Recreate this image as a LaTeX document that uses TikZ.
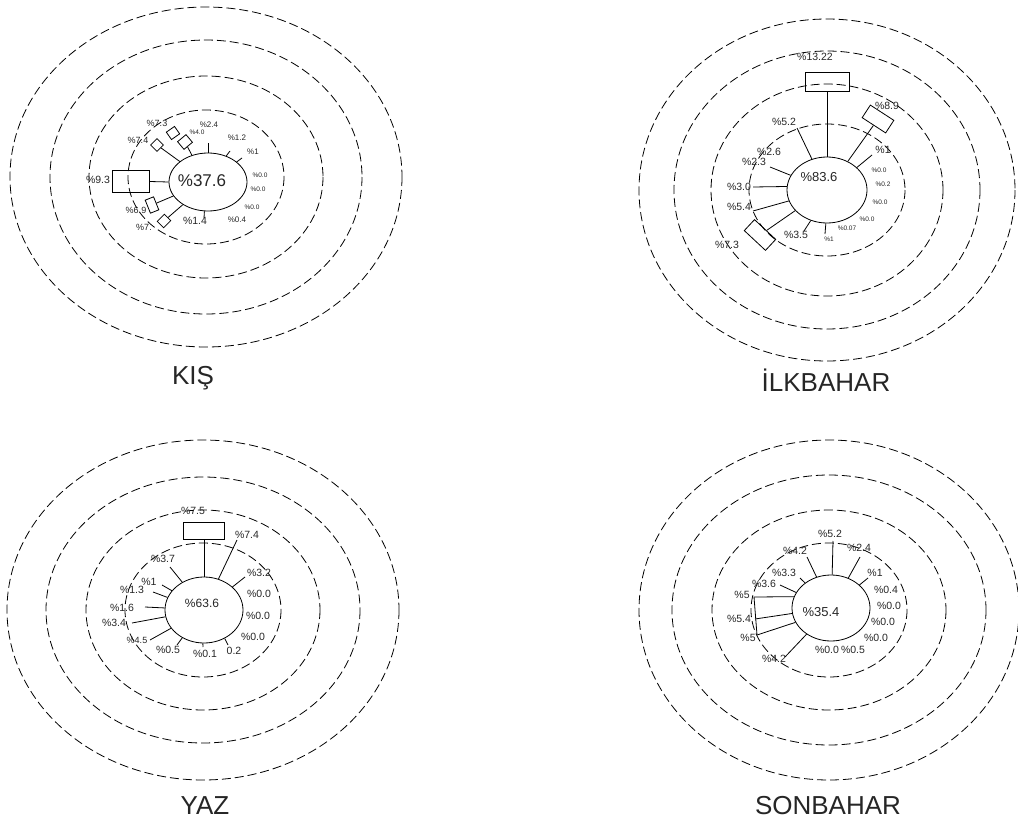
\documentclass[tikz,border=0pt]{standalone}
\usepackage{fontspec}
\setmainfont{Liberation Sans}
\usetikzlibrary{shapes.geometric}

\begin{document}
\begin{tikzpicture}[x=1pt, y=-1pt, line width=0.8pt,
  ring/.style={dash pattern=on 9pt off 4pt, line width=0.8pt},
  hub/.style={draw, ellipse, inner sep=0pt, minimum width=78pt, minimum height=66pt},
  boxr/.style={draw, rectangle, inner sep=0pt},
  every node/.style={inner sep=0pt, text=black!85},
  lbl/.style={font=\fontsize{10.5}{10.5}\selectfont},
  mid/.style={font=\fontsize{9}{9}\selectfont},
  sml/.style={font=\fontsize{8}{8}\selectfont},
  tny/.style={font=\fontsize{6.5}{6.5}\selectfont},
  title/.style={font=\fontsize{26}{26}\selectfont}]
  \useasboundingbox[fill=white] (0,0) rectangle (1018,827);

  % KIS
  \foreach \rx/\ry in {78/67,117/101,156/137,196/170}
    \draw[ring] (206,177) ellipse [x radius=\rx, y radius=\ry];
  \node[hub, minimum height=58pt] (k0) at (208,182) {};
  \node[font=\fontsize{17}{17}\selectfont] (kC) at (202,181) {\%37.6};
  \node[sml] (kN) at (209,125) {\%2.4};
  \node[sml] (kNNE) at (237,138) {\%1.2};
  \node[sml] (kNE) at (253,152) {\%1};
  \node[tny] (kENE) at (260,175) {\%0.0};
  \node[tny] (kE) at (258,189) {\%0.0};
  \node[tny] (kESE) at (252,207) {\%0.0};
  \node[sml] (kSE) at (237,220) {\%0.4};
  \node[lbl] (kS) at (195,221) {\%1.4};
  \node[lbl] (kW) at (98,180) {\%9.3};
  \node[mid] (kWNW) at (138,140) {\%7.4};
  \node[mid] (kNW) at (157,123) {\%7.3};
  \node[tny] (kNNW) at (197,132) {\%4.0};
  \node[mid] (kWSW) at (136,210) {\%6.9};
  \node[mid] (kSW) at (144,227) {\%7.};
  \draw (k0.90) -- (208,143);
  \draw (k0.55) -- (230,151);
  \draw (k0.35) -- (242,158);
  \draw (k0.263) -- (204,218);
  \node[boxr, minimum width=37pt, minimum height=22pt] (kbW) at (131,181) {};
  \draw (kbW) -- (k0.180);
  \node[boxr, rotate=45, minimum width=9pt, minimum height=9pt] (kbWNW) at (157,145) {};
  \draw (kbWNW) -- (k0.144);
  \node[boxr, rotate=40, minimum width=11pt, minimum height=10pt] (kbNNW) at (185,142) {};
  \draw (kbNNW) -- (k0.121);
  \node[boxr, rotate=35, minimum width=10pt, minimum height=9pt] (kbNW) at (173,133) {};
  \node[boxr, rotate=112, minimum width=14pt, minimum height=9pt] (kbWSW) at (152,205) {};
  \draw (kbWSW) -- (k0.202);
  \node[boxr, rotate=45, minimum width=10pt, minimum height=9pt] (kbSW) at (164,221) {};
  \draw (kbSW) -- (k0.222);
  \node[title] (kT) at (193,378) {KIŞ};

  % ILKBAHAR
  \foreach \rx/\ry in {78/66,116/106,153/139,188/171}
    \draw[ring] (827,190) ellipse [x radius=\rx, y radius=\ry];
  \node[hub, minimum width=80pt] (i0) at (827,190) {};
  \node[font=\fontsize{13}{13}\selectfont] (iC) at (819,177) {\%83.6};
  \node[boxr, minimum width=44pt, minimum height=19pt] (ibN) at (827,82) {};
  \draw (ibN) -- (i0);
  \node[lbl] (iN) at (815,57) {\%13.22};
  \node[boxr, rotate=-33, minimum width=28pt, minimum height=15pt] (ibNNE) at (878,119) {};
  \draw (ibNNE) -- (i0.54);
  \node[lbl] (iNNE) at (887,106) {\%8.9};
  \draw (i0.37) -- (872,155);
  \node[lbl] (iNE) at (883,150) {\%1};
  \node[tny] (iENE) at (879,170) {\%0.0};
  \node[tny] (iE) at (883,184) {\%0.2};
  \node[tny] (iESE) at (880,202) {\%0.0};
  \node[tny] (iSE) at (867,219) {\%0.0};
  \node[tny] (iSSE) at (847,228) {\%0.07};
  \draw (i0.268) -- (825,234);
  \node[tny] (iS) at (829,239) {\%1};
  \draw (i0.242) -- (804,231);
  \node[lbl] (iSSW) at (796,235) {\%3.5};
  \node[boxr, rotate=-43, minimum width=29pt, minimum height=15pt] (ibSW) at (760,235) {};
  \draw (ibSW) -- (i0.213);
  \node[lbl] (iSW) at (727,245) {\%7.3};
  \draw (i0.196) -- (753,211);
  \node[lbl] (iWSW) at (739,207) {\%5.4};
  \draw (i0.175) -- (753,187);
  \node[lbl] (iW) at (739,187) {\%3.0};
  \draw (i0.158) -- (770,167);
  \node[lbl] (iWNW) at (754,162) {\%2.3};
  \node[lbl] (iNW) at (769,152) {\%2.6};
  \draw (i0.116) -- (797,128);
  \node[lbl] (iNNW) at (784,122) {\%5.2};
  \node[title] (iT) at (826,380) {İLKBAHAR};

  % YAZ
  \foreach \rx/\ry in {78/67,117/100,157/133,196/170}
    \draw[ring] (203,610) ellipse [x radius=\rx, y radius=\ry];
  \node[hub] (y0) at (204,610) {};
  \node[font=\fontsize{12}{12}\selectfont] (yC) at (202,603) {\%63.6};
  \node[boxr, minimum width=41pt, minimum height=17pt] (ybN) at (204,531) {};
  \draw (ybN) -- (y0);
  \node[lbl] (yN) at (193,511) {\%7.5};
  \draw (y0.65) -- (237,540);
  \node[lbl] (yNNE) at (247,535) {\%7.4};
  \draw (y0.39) -- (245,577);
  \node[lbl] (yNE) at (259,573) {\%3.2};
  \node[lbl] (yENE) at (259,594) {\%0.0};
  \node[lbl] (yE) at (258,616) {\%0.0};
  \node[lbl] (yESE) at (253,637) {\%0.0};
  \draw (y0.-54) -- (228,645);
  \node[lbl] (ySE) at (234,651) {0.2};
  \draw (y0.268) -- (203,647);
  \node[lbl] (yS) at (205,654) {\%0.1};
  \draw (y0.232) -- (177,645);
  \node[lbl] (ySSW) at (168,650) {\%0.5};
  \draw (y0.209) -- (150,640);
  \node[mid] (ySW) at (137,640) {\%4.5};
  \draw (y0.190) -- (132,623);
  \node[lbl] (yWSW) at (114,623) {\%3.4};
  \draw (y0.177) -- (145,607);
  \node[lbl] (yW) at (122,608) {\%1.6};
  \draw (y0.161) -- (153,592);
  \node[lbl] (yWNW) at (132,590) {\%1.3};
  \draw (y0.149) -- (162,585);
  \node[lbl] (yNW) at (149,582) {\%1};
  \draw (y0.128) -- (170,567);
  \node[lbl] (yNNW) at (163,559) {\%3.7};
  \node[title] (yT) at (205,806) {YAZ};

  % SONBAHAR
  \foreach \rx/\ry in {78/67,117/100,157/135,190/170}
    \draw[ring] (829,610) ellipse [x radius=\rx, y radius=\ry];
  \node[hub] (s0) at (831,608) {};
  \node[font=\fontsize{13}{13}\selectfont] (sC) at (821,612) {\%35.4};
  \draw (s0.88) -- (833,541);
  \node[lbl] (sN) at (830,534) {\%5.2};
  \draw (s0.60) -- (860,557);
  \node[lbl] (sNNE) at (859,548) {\%2.4};
  \draw (s0.39) -- (868,578);
  \node[lbl] (sNE) at (875,573) {\%1};
  \node[lbl] (sENE) at (886,590) {\%0.4};
  \node[lbl] (sE) at (889,606) {\%0.0};
  \node[lbl] (sESE) at (883,622) {\%0.0};
  \node[lbl] (sSE) at (876,638) {\%0.0};
  \node[lbl] (sSSE) at (853,650) {\%0.5};
  \node[lbl] (sS) at (827,650) {\%0.0};
  \draw (s0.227) -- (785,657);
  \node[lbl] (sSSW) at (774,659) {\%4.2};
  \coordinate (sWe) at (754,597);
  \coordinate (sSWe) at (757,635);
  \draw (s0.202) -- (sSWe);
  \node[lbl] (sSW) at (748,638) {\%5};
  \draw (s0.188) -- (755,619);
  \node[lbl] (sWSW) at (739,619) {\%5.4};
  \draw (s0.163) -- (sWe) -- (sSWe);
  \node[lbl] (sW) at (742,595) {\%5};
  \draw (s0.156) -- (780,585);
  \node[lbl] (sWNW) at (764,584) {\%3.6};
  \draw (s0.136) -- (800,578);
  \node[lbl] (sNW) at (784,573) {\%3.3};
  \draw (s0.115) -- (807,557);
  \node[lbl] (sNNW) at (795,551) {\%4.2};
  \node[title] (sT) at (828,806) {SONBAHAR};
\end{tikzpicture}
\end{document}
